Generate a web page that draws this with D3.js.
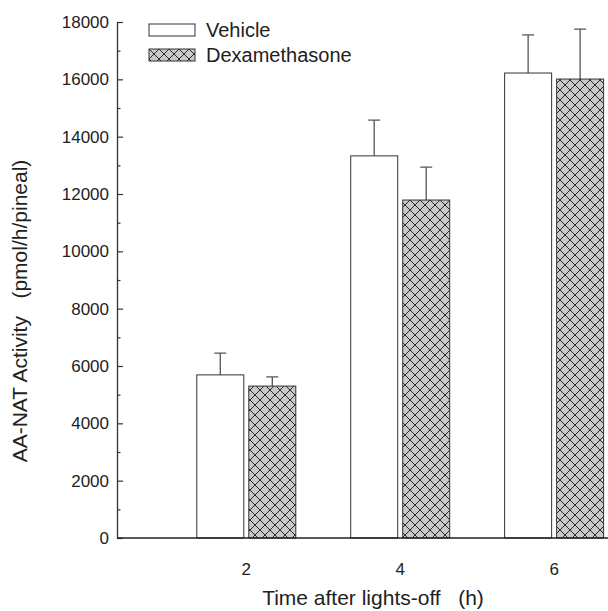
<!DOCTYPE html>
<html>
<head>
<meta charset="utf-8">
<script src="https://cdn.jsdelivr.net/npm/d3@7"></script>
<style>
  body { margin: 0; background: #fff; }
  text { font-family: "Liberation Sans", Arial, sans-serif; fill: #222; }
</style>
</head>
<body>
<div class="chart"></div>
<script>
const times = [2, 4, 6];
const vehicle = [5690, 13330, 16220];
const vehicleErr = [760, 1250, 1330];
const dexa = [5300, 11790, 16010];
const dexaErr = [320, 1150, 1740];
const yTicks = [0, 2000, 4000, 6000, 8000, 10000, 12000, 14000, 16000, 18000];
const seriesNames = ["Vehicle", "Dexamethasone"];

const totalWidth = 608, totalHeight = 611;
const margin = { top: 22, left: 117, right: 0, bottom: 73 };
const height = totalHeight - margin.top - margin.bottom;

const svg = d3
  .select(".chart")
  .append("svg")
  .attr("width", totalWidth)
  .attr("height", totalHeight);

// crosshatch for the dexamethasone bars
const pat = svg
  .append("defs")
  .append("pattern")
  .attr("id", "hatch")
  .attr("patternUnits", "userSpaceOnUse")
  .attr("width", 10)
  .attr("height", 10);
pat.append("rect").attr("width", 10).attr("height", 10).attr("fill", "#c9c9c9");
pat
  .append("path")
  .attr("d", "M0,0L10,10M10,0L0,10M-1,9L1,11M9,-1L11,1M9,11L11,9M-1,1L1,-1")
  .attr("stroke", "#2a2a2a")
  .attr("stroke-width", 1);

const xScale = d3.scaleLinear().domain([0.32, 6.7]).range([margin.left, totalWidth - margin.right]);
const yScale = d3.scaleLinear().domain([0, 18000]).range([margin.top + height, margin.top]);

const barW = 47, gap = 5;
const series = [
  { name: "Vehicle", values: vehicle, errs: vehicleErr, fill: "#fff", off: -gap / 2 - barW },
  { name: "Dexamethasone", values: dexa, errs: dexaErr, fill: "url(#hatch)", off: gap / 2 },
];

series.forEach((s) => {
  const g = svg.append("g");
  const rows = times.map((t, i) => ({ t, v: s.values[i], e: s.errs[i] }));
  // error bars (upper only)
  g.selectAll(".err")
    .data(rows)
    .enter()
    .append("path")
    .attr("d", (d) => {
      const cx = xScale(d.t) + s.off + barW / 2;
      const y1 = yScale(d.v), y2 = yScale(d.v + d.e);
      return `M${cx},${y1}V${y2}M${cx - 6},${y2}H${cx + 6}`;
    })
    .attr("fill", "none")
    .attr("stroke", "#555")
    .attr("stroke-width", 1.3);
  g.selectAll("rect")
    .data(rows)
    .enter()
    .append("rect")
    .attr("x", (d) => xScale(d.t) + s.off)
    .attr("y", (d) => yScale(d.v))
    .attr("width", barW)
    .attr("height", (d) => yScale(0) - yScale(d.v))
    .attr("fill", s.fill)
    .attr("stroke", "#333")
    .attr("stroke-width", 1);
});

// y axis with inward ticks
const yAxis = d3
  .axisRight(yScale)
  .tickValues(d3.range(0, 18001, 1000))
  .tickSize(0)
  .tickFormat("");
const yG = svg.append("g").attr("transform", `translate(${margin.left},0)`).call(yAxis);
yG.select(".domain").attr("stroke", "#333").attr("stroke-width", 1.3);
yG.selectAll(".tick line")
  .attr("x2", (d) => (d % 2000 === 0 ? 6 : 3.5))
  .attr("stroke", "#333")
  .attr("stroke-width", 1.2);

svg
  .append("g")
  .selectAll("text")
  .data(yTicks)
  .enter()
  .append("text")
  .attr("x", margin.left - 8)
  .attr("y", (d) => yScale(d))
  .attr("dy", "0.36em")
  .attr("text-anchor", "end")
  .attr("font-size", 17)
  .text((d) => d);

// x axis (no ticks)
svg
  .append("line")
  .attr("x1", xScale.range()[0])
  .attr("x2", xScale.range()[1])
  .attr("y1", yScale(0))
  .attr("y2", yScale(0))
  .attr("stroke", "#222")
  .attr("stroke-width", 1.3);

svg
  .append("g")
  .selectAll("text")
  .data(times)
  .enter()
  .append("text")
  .attr("x", (d) => xScale(d))
  .attr("y", yScale(0) + 37)
  .attr("text-anchor", "middle")
  .attr("font-size", 17)
  .text((d) => d);

// axis titles
svg
  .append("text")
  .attr("x", 373)
  .attr("y", 605)
  .attr("text-anchor", "middle")
  .attr("font-size", 21)
  .style("white-space", "pre")
  .text("Time after lights-off   (h)");

svg
  .append("text")
  .attr("transform", "translate(27,311) rotate(-90)")
  .attr("text-anchor", "middle")
  .attr("font-size", 21)
  .style("white-space", "pre")
  .text("AA-NAT Activity   (pmol/h/pineal)");

// legend
const legend = svg
  .append("g")
  .selectAll("g")
  .data(series)
  .enter()
  .append("g")
  .attr("transform", (d, i) => `translate(149,${24 + i * 25})`);
legend
  .append("rect")
  .attr("width", 46)
  .attr("height", 12)
  .attr("fill", (d) => d.fill)
  .attr("stroke", "#333")
  .attr("stroke-width", 1);
legend
  .append("text")
  .attr("x", 57)
  .attr("y", 13)
  .attr("font-size", 20)
  .text((d, i) => seriesNames[i]);
</script>
</body>
</html>
